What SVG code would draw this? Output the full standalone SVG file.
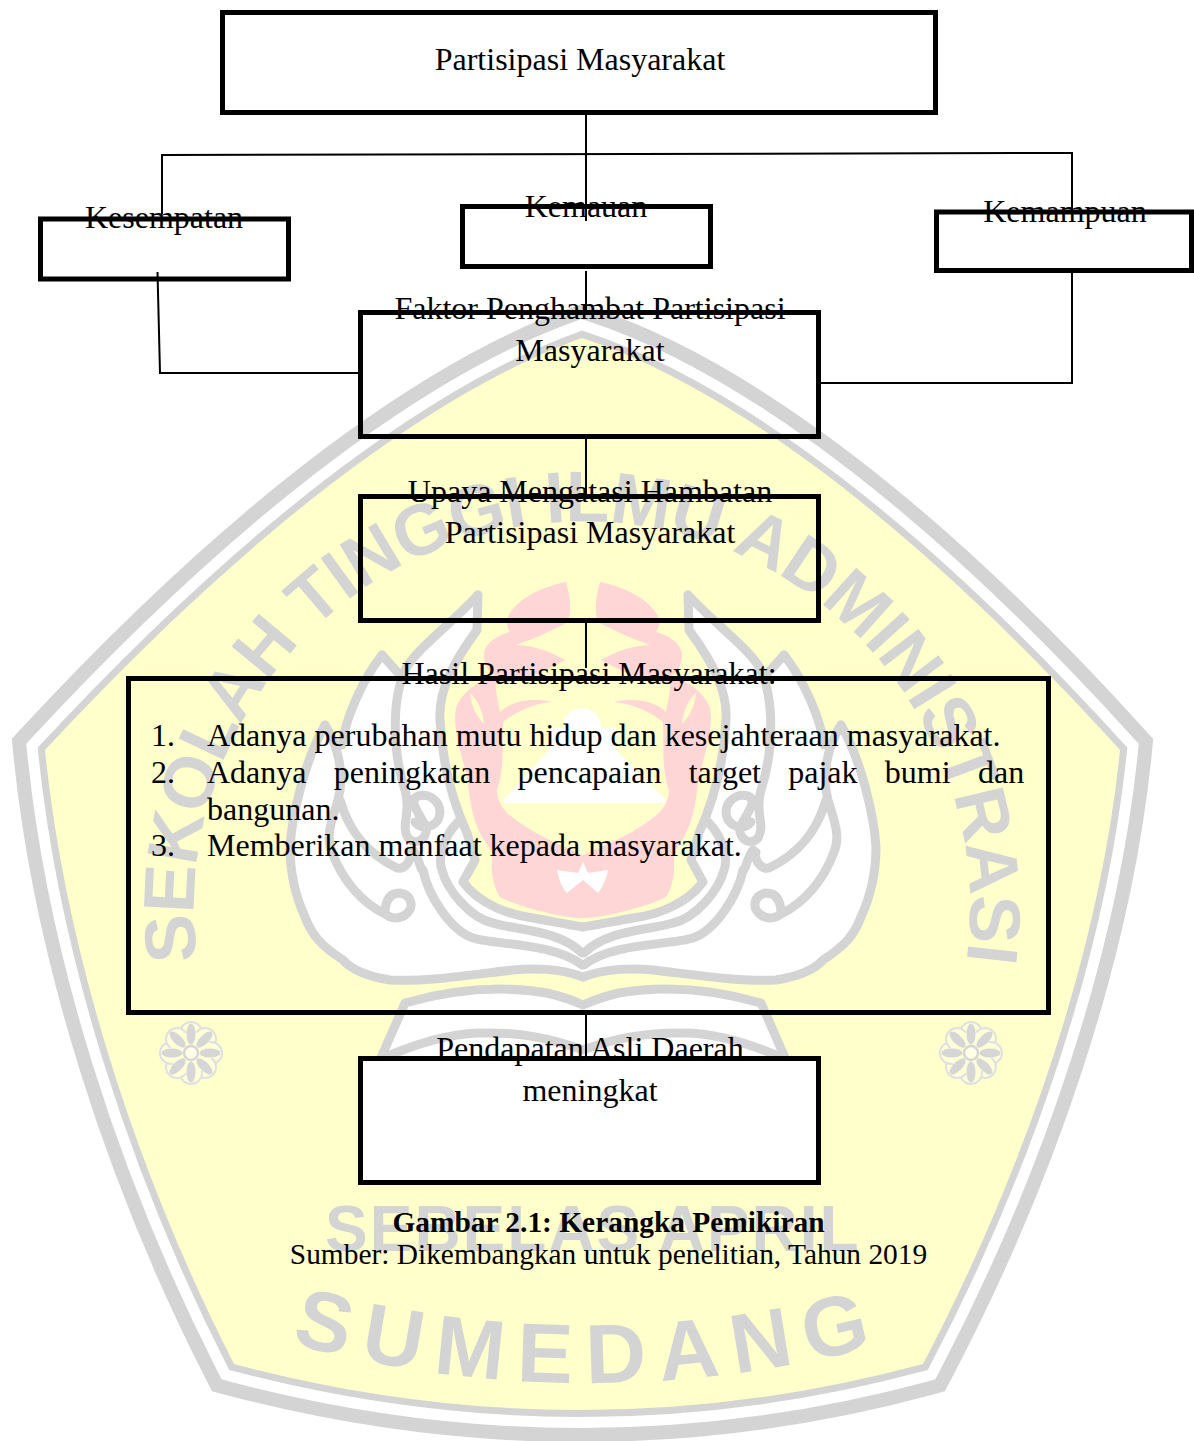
<svg xmlns="http://www.w3.org/2000/svg" xmlns:xlink="http://www.w3.org/1999/xlink" width="1194" height="1441" viewBox="0 0 1194 1441">
<style>
.t{font-family:"Liberation Serif","Times New Roman",serif;font-size:32px;fill:#000}
.c{text-anchor:middle}
.b{fill:none;stroke:#000;stroke-width:5;stroke-linejoin:miter}
.f{fill:#fff}
.l{fill:none;stroke:#000;stroke-width:2}
.w{font-family:"Liberation Sans",Arial,sans-serif;font-weight:700;fill:#d4d4d4}
.g{fill:none;stroke:#d4d4d4;stroke-width:9;stroke-linejoin:round;stroke-linecap:round}
.cap{font-size:29.4px}
</style>
<defs>
<path id="shield" d="M582 338C695 375 875 480 1120 750C1100 950 1025 1170 923 1364Q582 1456 234 1364C135 1170 65 950 45 750C290 486 470 378 582 338Z"/>
<path id="ring" d="M217 1041A388 388 0 1 1 947 1041"/>
<path id="smile" d="M286 1342Q588 1424 891 1342"/>
<g id="flower">
<g fill="#ffffd8" stroke="#e0e0e0" stroke-width="2">
<circle cx="0" cy="-20" r="11"/><circle cx="14" cy="-14" r="11"/><circle cx="20" cy="0" r="11"/><circle cx="14" cy="14" r="11"/><circle cx="0" cy="20" r="11"/><circle cx="-14" cy="14" r="11"/><circle cx="-20" cy="0" r="11"/><circle cx="-14" cy="-14" r="11"/>
</g>
<circle r="21" fill="#ffffd8"/>
<g fill="#d6d6d6">
<ellipse cy="-19" rx="4.500" ry="10.500"/><ellipse cy="19" rx="4.500" ry="10.500"/><ellipse cx="-19" rx="10.500" ry="4.500"/><ellipse cx="19" rx="10.500" ry="4.500"/>
<ellipse cy="-19" rx="4.500" ry="10.500" transform="rotate(45)"/><ellipse cy="-19" rx="4.500" ry="10.500" transform="rotate(135)"/><ellipse cy="-19" rx="4.500" ry="10.500" transform="rotate(225)"/><ellipse cy="-19" rx="4.500" ry="10.500" transform="rotate(315)"/>
</g>
<circle r="7" fill="#ffffe8" stroke="#d6d6d6" stroke-width="2.500"/>
</g>
<g id="hand">
<path fill="#fff" d="M325 725L345 752L352 707L382 655L405 670L478 595L477 630C455 660 438 690 440 720C442 760 452 800 467 833L475 860L463 882C480 905 510 915 533 918C555 922 570 925 583 927L583 977C560 968 530 968 513 970C470 975 425 982 390 980C365 976 350 968 343 960C320 945 312 935 305 917C295 895 290 870 290 847C292 815 305 760 325 725Z"/>
<path class="g" d="M325 725C305 760 292 815 290 847C290 870 295 895 305 917C312 935 320 945 343 960C350 968 365 976 390 980C425 982 470 975 513 970C530 968 560 968 583 977"/>
<path class="g" d="M325 725C338 745 345 775 338 800C330 825 326 838 332 852C342 880 362 903 385 914C385 900 390 893 400 893C412 895 415 908 405 915C398 920 390 918 385 914"/>
<path class="g" d="M382 655C362 680 345 720 342 745"/>
<path class="g" d="M382 655L400 675"/>
<path class="g" d="M478 595C450 625 415 650 405 670C392 700 392 750 405 790C412 812 400 825 408 838C418 848 430 835 425 825C418 812 408 800 418 796C432 792 445 806 438 820C430 830 420 828 415 822"/>
<path class="g" d="M340 800C350 835 370 855 397 868C405 870 412 860 410 852"/>
<path class="g" d="M478 595L477 630C455 660 438 690 440 720C442 760 452 800 467 833L475 860L463 882C480 905 510 915 533 918C555 922 570 925 583 927"/>
<path class="g" d="M458 822C442 838 438 860 442 870C447 890 470 918 493 923C515 930 560 930 582 953"/>
<path class="g" d="M413 850C420 860 420 870 423 870C428 895 450 930 473 938C495 945 555 943 582 965"/>
<path fill="#fff" d="M405 1003C450 990 500 985 547 993L583 1005V1060H378Z"/>
<path class="g" d="M380 1060L405 1003C450 990 500 985 547 993C560 996 572 1000 583 1005"/>
<path class="g" d="M383 1058C420 1042 450 1034 478 1033C520 1032 550 1038 583 1050"/>
</g>
<g id="wreath">
<path fill="#ffd6d6" d="M566 582C545 586 520 597 510 613C505 620 507 628 510 632C495 636 484 645 484 655C484 668 490 672 497 678C480 678 462 692 456 708C452 730 462 755 467 777C470 795 470 815 482 837L493 853C490 865 492 885 500 897C515 905 560 918 583 918V855C560 845 530 833 507 813C498 803 497 795 497 790C505 770 502 735 503 722C515 712 535 703 552 702C530 697 510 702 500 712C498 700 495 690 496 684C510 684 540 675 565 660C545 648 525 645 516 645C530 640 550 632 568 622C572 610 570 595 566 582Z"/>
<path fill="#ffffcc" d="M470 693C478 700 483 712 484 724C476 716 471 705 470 693Z"/>
</g>
</defs>

<g id="watermark">
<use href="#shield" fill="none" stroke="#d4d4d4" stroke-width="64" stroke-miterlimit="10"/>
<use href="#shield" fill="none" stroke="#fff" stroke-width="36" stroke-miterlimit="10"/>
<use href="#shield" fill="none" stroke="#d4d4d4" stroke-width="14" stroke-miterlimit="10"/>
<use href="#shield" fill="#ffffcc"/>
<use href="#hand"/>
<use href="#hand" transform="matrix(-1 0 0 1 1166 0)"/>
<use href="#wreath"/>
<use href="#wreath" transform="matrix(-1 0 0 1 1166 0)"/>
<g id="building" fill="#fff">
<circle cx="582" cy="727" r="19"/>
<rect x="549" y="728" width="67" height="26"/>
<path d="M549 750L504 799V803H665V799L616 750Z"/>
<path d="M557 870L578 873L583 862L588 873L608 870C606 880 602 888 598 893L583 880L567 893C562 888 559 880 557 870Z"/>
</g>
<text class="w" font-size="72" text-anchor="middle" letter-spacing="-1"><textPath href="#ring" startOffset="50%">SEKOLAH TINGGI ILMU ADMINISTRASI</textPath></text>
<text class="w" x="325" y="1251" font-size="64" letter-spacing="2">SEBELAS APRIL</text>
<text class="w" font-size="84" text-anchor="middle" letter-spacing="14"><textPath href="#smile" startOffset="50%">SUMEDANG</textPath></text>
<use href="#flower" x="191" y="1053"/>
<use href="#flower" x="971" y="1053"/>
</g>

<g id="connectors">
<path class="l" d="M586 113V221"/>
<path class="l" d="M162 214V155L1072 153V212"/>
<path class="l" d="M157.500 272L160 373H360"/>
<path class="l" d="M586 271V312"/>
<path class="l" d="M1072 272V383H820"/>
<path class="l" d="M586 438V494"/>
<path class="l" d="M586 622V668"/>
<path class="l" d="M586 1014V1058"/>
</g>

<g id="n-partisipasi"><rect class="b" x="222.500" y="12.500" width="713" height="100"/><text class="t c" x="580" y="70">Partisipasi Masyarakat</text></g>
<g id="n-kesempatan"><rect class="b" x="40.500" y="219" width="248" height="60"/><text class="t c" x="164" y="228">Kesempatan</text></g>
<g id="n-kemauan"><rect class="b" x="462.500" y="206.500" width="248" height="60"/><text class="t c" x="586" y="217">Kemauan</text></g>
<g id="n-kemampuan"><rect class="b" x="936.500" y="212" width="255" height="58.500"/><text class="t c" x="1065" y="222">Kemampuan</text></g>
<g id="n-faktor"><rect class="b" x="360.500" y="312.500" width="458" height="124"/><text class="t c" x="590" y="319">Faktor Penghambat Partisipasi</text><text class="t c" x="590" y="361">Masyarakat</text></g>
<g id="n-upaya"><rect class="b" x="360.500" y="496.500" width="458" height="124"/><text class="t c" x="590" y="502">Upaya Mengatasi Hambatan</text><text class="t c" x="590" y="543">Partisipasi Masyarakat</text></g>
<g id="n-hasil"><rect class="b" x="128.500" y="678.500" width="920" height="334"/>
<text class="t c" x="589" y="684">Hasil Partisipasi Masyarakat:</text>
<text class="t" x="151" y="746">1.</text><text class="t" x="207" y="746">Adanya perubahan mutu hidup dan kesejahteraan masyarakat.</text>
<text class="t" x="151" y="783">2.</text><text class="t" x="207" y="783" word-spacing="19.300">Adanya peningkatan pencapaian target pajak bumi dan</text>
<text class="t" x="207" y="820">bangunan.</text>
<text class="t" x="151" y="856">3.</text><text class="t" x="207" y="856">Memberikan manfaat kepada masyarakat.</text></g>
<g id="n-pendapatan"><rect class="b f" x="360.500" y="1058.500" width="458" height="124" style="fill:#fff"/><text class="t c" x="590" y="1059">Pendapatan Asli Daerah</text><text class="t c" x="590" y="1101">meningkat</text></g>
<g id="caption"><text class="t c cap" x="608.500" y="1232" font-weight="700">Gambar 2.1: Kerangka Pemikiran</text><text class="t c cap" x="608.500" y="1264">Sumber: Dikembangkan untuk penelitian, Tahun 2019</text></g>
</svg>
